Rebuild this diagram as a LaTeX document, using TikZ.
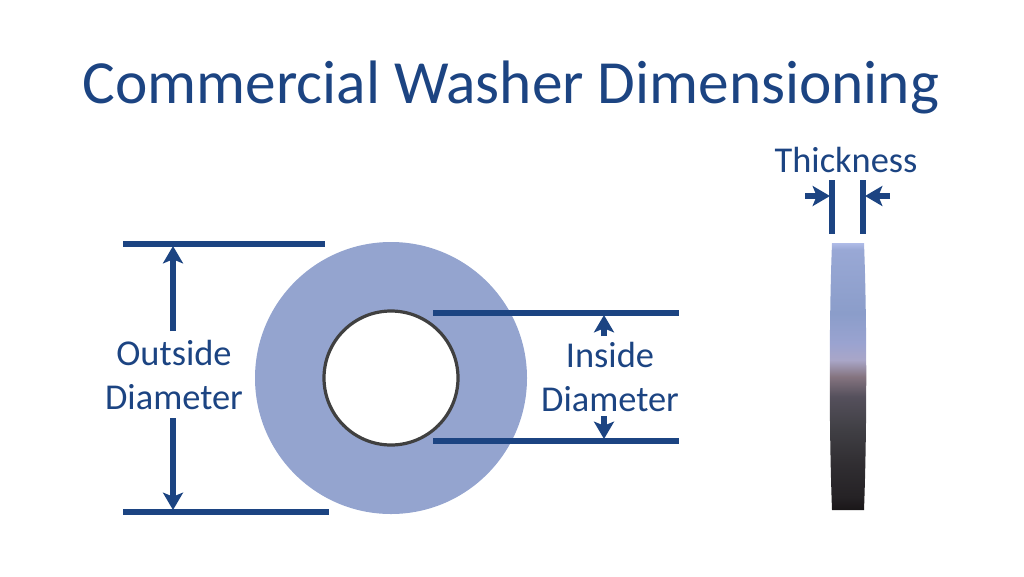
\documentclass[tikz,border=0pt]{standalone}
\usepackage{fontspec}
\setmainfont{Carlito}
\usetikzlibrary{arrows.meta}
\definecolor{dimblue}{HTML}{1C4482}
\definecolor{washerblue}{HTML}{94A4CF}
\pgfdeclareverticalshading{sideshade}{100bp}{
  rgb(0bp)=(0.10,0.086,0.094);
  rgb(25bp)=(0.10,0.086,0.094);
  rgb(27.5bp)=(0.145,0.133,0.145);
  rgb(33.75bp)=(0.19,0.18,0.196);
  rgb(40bp)=(0.25,0.247,0.267);
  rgb(46.25bp)=(0.333,0.314,0.361);
  rgb(50bp)=(0.522,0.455,0.502);
  rgb(53.1bp)=(0.663,0.651,0.784);
  rgb(56.25bp)=(0.604,0.639,0.816);
  rgb(61.9bp)=(0.545,0.616,0.792);
  rgb(73.75bp)=(0.6,0.659,0.835);
  rgb(75bp)=(0.69,0.737,0.91);
  rgb(100bp)=(0.69,0.737,0.91)}
\tikzset{
  dimline/.style={draw=dimblue, line width=4.2pt},
  dimarrow/.style={draw=dimblue, line width=4pt, -{Stealth[length=13pt, width=15pt, inset=3pt]}},
  dimlabel/.style={text=dimblue, font=\fontsize{27.3}{33}\selectfont, align=center, inner sep=0},
}
\begin{document}
\begin{tikzpicture}[x=0.75pt, y=-0.75pt]
\useasboundingbox (0,0) rectangle (1024,576);
\node[text=dimblue, font=\fontsize{46}{55}\selectfont, inner sep=0] (title) at (511,87) {Commercial Washer Dimensioning};
% Washer
\fill[washerblue] (391,378) circle (136);
\fill[white, draw=black!75, line width=2.4pt] (391,378) circle (67);
% Side view
\shade[shading=sideshade] (832,243) -- (864,243) .. controls (867,320) and (867,430) .. (864,510) -- (832,510) .. controls (829,430) and (829,320) .. (832,243) -- cycle;
% Lines
\coordinate (o1) at (123,244);
\coordinate (o2) at (325,244);
\coordinate (o3) at (123,512);
\coordinate (o4) at (329,512);
\coordinate (i1) at (433,313);
\coordinate (i2) at (679,313);
\coordinate (i3) at (433,441);
\coordinate (i4) at (679,441);
\coordinate (t1) at (832,180);
\coordinate (t2) at (832,234);
\coordinate (t3) at (863,180);
\coordinate (t4) at (863,234);
\draw[dimline] (o1)--(o2);
\draw[dimline] (o3)--(o4);
\draw[dimline] (i1)--(i2);
\draw[dimline] (i3)--(i4);
\draw[dimline] (t1)--(t2);
\draw[dimline] (t3)--(t4);
% Labels
\node[dimlabel] (outside) at (174,375) {Outside\\Diameter};
\node[dimlabel] (inside) at (610,377) {Inside\\Diameter};
\node[dimlabel] (thick) at (846,160) {Thickness};
% Arrows
\coordinate (a1) at (173,331);
\coordinate (a2) at (173,246);
\coordinate (a3) at (173,418);
\coordinate (a4) at (173,510);
\coordinate (a5) at (604,336);
\coordinate (a6) at (604,315);
\coordinate (a7) at (604,416);
\coordinate (a8) at (604,439);
\coordinate (a9) at (805,196);
\coordinate (a10) at (830,196);
\coordinate (a11) at (890,196);
\coordinate (a12) at (865,196);
\draw[dimarrow] (a1)--(a2);
\draw[dimarrow] (a3)--(a4);
\draw[dimarrow] (a5)--(a6);
\draw[dimarrow] (a7)--(a8);
\draw[dimarrow] (a9)--(a10);
\draw[dimarrow] (a11)--(a12);
\end{tikzpicture}
\end{document}
